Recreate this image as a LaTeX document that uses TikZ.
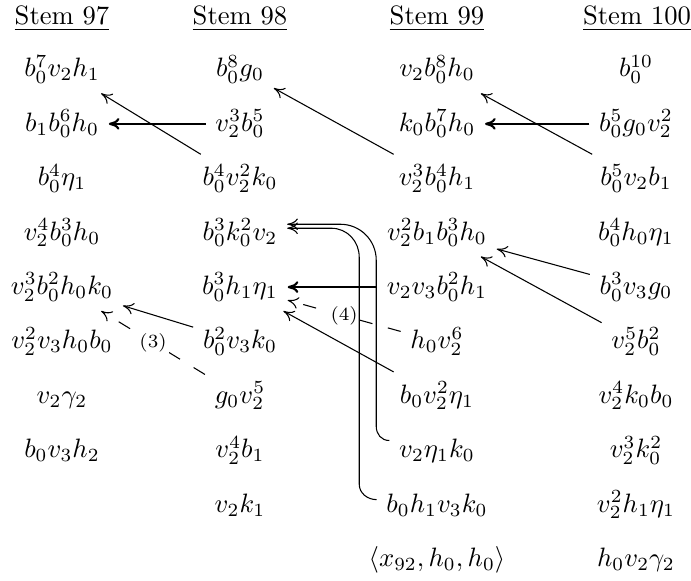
\documentclass[tikz,border=0pt]{standalone}
\usetikzlibrary{arrows.meta}
\begin{document}
\begin{tikzpicture}[x=0.376pt,y=-0.376pt,
  lbl/.style={anchor=base,inner sep=3.5pt},
  hd/.style={anchor=base,inner sep=0pt},
  tipstyle/.style={},
  thinarr/.style={-{To[length=4pt,width=4.4pt]},line width=0.4pt},
  revarr/.style={{To[length=4pt,width=4.4pt]}-,line width=0.4pt},
  thickarr/.style={-{To[length=4pt,width=4.4pt]},line width=0.8pt},
  dasharr/.style={thinarr,dash pattern=on 5pt off 6pt},
  tag/.style={fill=white,inner sep=1pt,font=\scriptsize}]
\useasboundingbox (0,0) rectangle (691,581);
% headers
\node[hd] (h97) at (62,25) {\underline{Stem 97}};
\node[hd] (h98) at (240,25) {\underline{Stem 98}};
\node[hd] (h99) at (437,25) {\underline{Stem 99}};
\node[hd] (h100) at (637,25) {\underline{Stem 100}};
% stem 97
\node[lbl] (a1) at (62,77) {$b_0^7v_2h_1$};
\node[lbl] (a2) at (62,131.4) {$b_1b_0^6h_0$};
\node[lbl] (a3) at (62,185.8) {$b_0^4\eta_1$};
\node[lbl] (a4) at (62,240.2) {$v_2^4b_0^3h_0$};
\node[lbl] (a5) at (62,294.6) {$v_2^3b_0^2h_0k_0$};
\node[lbl] (a6) at (62,349) {$v_2^2v_3h_0b_0$};
\node[lbl] (a7) at (62,403.4) {$v_2\gamma_2$};
\node[lbl] (a8) at (62,457.8) {$b_0v_3h_2$};
% stem 98
\node[lbl] (b1) at (240,77) {$b_0^8g_0$};
\node[lbl] (b2) at (240,131.4) {$v_2^3b_0^5$};
\node[lbl] (b3) at (240,185.8) {$b_0^4v_2^2k_0$};
\node[lbl] (b4) at (240,240.2) {$b_0^3k_0^2v_2$};
\node[lbl] (b5) at (240,294.6) {$b_0^3h_1\eta_1$};
\node[lbl] (b6) at (240,349) {$b_0^2v_3k_0$};
\node[lbl] (b7) at (240,403.4) {$g_0v_2^5$};
\node[lbl] (b8) at (240,457.8) {$v_2^4b_1$};
\node[lbl] (b9) at (240,512.2) {$v_2k_1$};
% stem 99
\node[lbl] (c1) at (437,77) {$v_2b_0^8h_0$};
\node[lbl] (c2) at (437,131.4) {$k_0b_0^7h_0$};
\node[lbl] (c3) at (437,185.8) {$v_2^3b_0^4h_1$};
\node[lbl] (c4) at (437,240.2) {$v_2^2b_1b_0^3h_0$};
\node[lbl] (c5) at (437,294.6) {$v_2v_3b_0^2h_1$};
\node[lbl] (c6) at (437,349) {$h_0v_2^6$};
\node[lbl] (c7) at (437,403.4) {$b_0v_2^2\eta_1$};
\node[lbl] (c8) at (437,457.8) {$v_2\eta_1k_0$};
\node[lbl] (c9) at (437,512.2) {$b_0h_1v_3k_0$};
\node[lbl] (c10) at (437,566.6) {$\langle x_{92},h_0,h_0\rangle$};
% stem 100
\node[lbl] (d1) at (636,77) {$b_0^{10}$};
\node[lbl] (d2) at (636,131.4) {$b_0^5g_0v_2^2$};
\node[lbl] (d3) at (636,185.8) {$b_0^5v_2b_1$};
\node[lbl] (d4) at (636,240.2) {$b_0^4h_0\eta_1$};
\node[lbl] (d5) at (636,294.6) {$b_0^3v_3g_0$};
\node[lbl] (d6) at (636,349) {$v_2^5b_0^2$};
\node[lbl] (d7) at (636,403.4) {$v_2^4k_0b_0$};
\node[lbl] (d8) at (636,457.8) {$v_2^3k_0^2$};
\node[lbl] (d9) at (636,512.2) {$v_2^2h_1\eta_1$};
\node[lbl] (d10) at (636,566.6) {$h_0v_2\gamma_2$};
% arrows
\draw[thinarr] (b3) -- (a1);
\draw[thickarr] (b2.west) -- (b2.west -| a2.east);
\draw[thinarr] (c3) -- (b1);
\draw[thickarr] (d2.west) -- (d2.west -| c2.east);
\draw[thinarr] (d3) -- (c1);
\draw[thinarr] (d5) -- (c4);
\draw[thinarr] (d6) -- (c4);
\draw[thickarr] (c5.west) -- (c5.west -| b5.east);
\draw[dasharr] (c6) -- node[tag] {(4)} (b5);
\draw[thinarr] (c7) -- (b5);
\draw[thinarr] (b6) -- (a5);
\draw[dasharr] (b7) -- node[tag] {(3)} (a5);
% curved arrows
\coordinate (tA) at ([yshift=6pt]b4.base east);
\coordinate (tB) at ([yshift=4.5pt]b4.base east);
\draw[revarr] (tA) -- ++(53,0) .. controls +(20,0) and +(0,-20) .. ++(36,36)
  -- ++(0,166) .. controls +(0,8) and +(-8,0) .. ([yshift=4pt]c8.west);
\draw[revarr] (tB) -- ++(44,0) .. controls +(16,0) and +(0,-16) .. ++(28,29)
  -- ++(0,227) .. controls +(0,9) and +(-9,0) .. ([yshift=2pt]c9.west);
\end{tikzpicture}
\end{document}
